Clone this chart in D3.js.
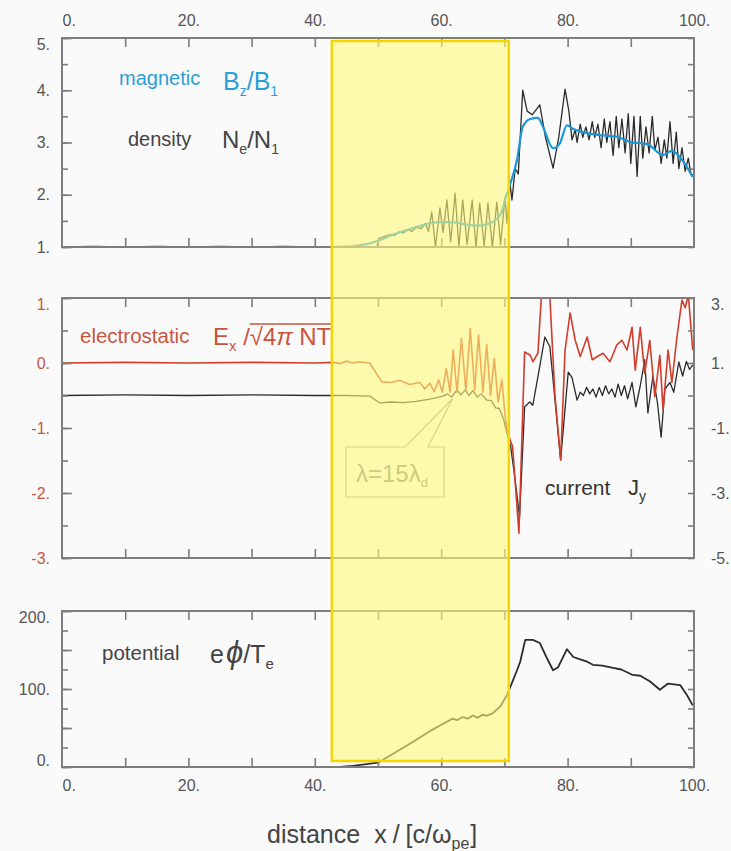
<!DOCTYPE html>
<html>
<head>
<meta charset="utf-8">
<title>Shock profile: magnetic, density, electrostatic, current, potential</title>
<style>
body { margin:0; background:#fafafa; }
text { font-family:"Liberation Sans", Arial, sans-serif; }
</style>
<script src="https://cdn.jsdelivr.net/npm/d3@7"></script>
</head>
<body>
<svg id="chart" width="731" height="851"></svg>
<script>
// tick labels
var xTicks = [0, 20, 40, 60, 80, 100];
var densTicks = [1, 2, 3, 4, 5];
var fieldTicks = [-3, -2, -1, 0, 1];
var currentTicks = [-5, -3, -1, 1, 3];
var potTicks = [0, 100, 200];

// highlighted region, in x units
var band = [42.7, 70.7];

// panel 1 : Bz/B1 (smooth) and Ne/N1
var magnetic = [[0,1],[45,1],[46.5,1.02],[48,1.05],[50,1.12],[52,1.22],[54,1.3],[56,1.38],[58,1.45],[60,1.48],
  [62,1.47],[64,1.43],[66,1.41],[68,1.47],[69.5,1.65],[70.2,1.95],[70.6,2.09],[72,2.67],[72.9,3.3],[74.1,3.45],
  [75.3,3.47],[76.1,3.3],[77.7,2.89],[78.8,2.99],[79.9,3.33],[80.9,3.26],[83.1,3.18],[85.1,3.14],[87.8,3.11],
  [89.9,3.01],[92.6,2.97],[95.1,2.76],[96.5,2.84],[98.1,2.67],[99.8,2.34]];

var density = [[0,1],[5,1.01],[10,1],[15,1.01],[20,1],[25,1.01],[30,1],[35,1.01],[40,1],[45,1.01],[49.8,1],
  [50.2,1.17],[51,1.2],[52,1.24],[52.6,1.22],[53.3,1.29],[54,1.27],[54.7,1.33],[55.4,1.3],[56.1,1.38],[56.8,1.35],
  [57.5,1.45],[58,1.3],[58.5,1.67],[59.1,1.0],[59.8,1.75],[60.3,1.28],[60.9,1.9],[61.5,1.1],[62.2,2.03],[62.8,1.0],
  [63.4,1.9],[64.1,1.05],[64.9,1.9],[65.5,1.0],[66.1,1.84],[66.8,1.02],[67.4,1.84],[68.1,1.0],[68.8,1.86],[69.4,1.05],
  [70.1,1.96],[70.4,1.45],[70.9,2.2],[71.2,1.9],[71.7,2.5],[72.2,2.4],[72.9,4.0],[73.6,3.6],[74.4,3.53],[75.6,3.72],
  [76.5,3.1],[77.7,2.51],[78.6,3.1],[79.6,4.02],[80.2,3.6],[80.7,3.05],[81.2,3.25],[81.5,3.0],[82,3.35],[82.4,3.1],
  [82.9,3.3],[83.4,3.05],[83.9,3.4],[84.3,3.1],[84.8,3.35],[85.3,2.9],[85.8,3.45],[86.2,3.0],[86.7,3.4],[87.2,2.75],
  [87.7,3.5],[88.1,2.9],[88.6,3.45],[89.1,2.8],[89.6,3.55],[90,2.6],[90.5,3.5],[91,2.35],[91.5,3.5],[91.9,2.7],
  [92.4,3.3],[92.9,2.8],[93.4,3.5],[93.8,2.85],[94.3,3.1],[94.8,2.6],[95.3,3.05],[95.7,2.7],[96.2,3.4],[96.7,2.6],
  [97.2,3.2],[97.6,2.5],[98.1,2.9],[98.6,2.45],[99.1,2.7],[99.5,2.4],[100,2.35]];

// panel 2 : Ex (left axis) and Jy (right axis)
var electric = [[0,0],[10,0.01],[20,0],[30,0.01],[40,0],[43,0.01],[44,-0.01],[45,0.03],[46,0.0],[47,0.02],[48.7,0],
  [50.6,-0.29],[52,-0.3],[53.5,-0.27],[55,-0.33],[56.6,-0.3],[57.4,-0.4],[58.2,-0.31],[58.9,-0.44],[59.6,-0.26],
  [60.2,-0.45],[60.8,-0.08],[61.4,-0.45],[61.9,0.2],[62.5,-0.45],[63.2,0.38],[63.9,-0.42],[64.6,0.53],[65.3,-0.42],
  [65.9,0.43],[66.6,-0.45],[67.2,0.28],[67.8,-0.5],[68.4,0.07],[69,-0.6],[69.6,-0.26],[70.2,-0.9],[70.6,-1.1],
  [71.3,-1.29],[72.3,-2.62],[73.2,0.17],[74.1,0.12],[74.5,0.02],[75.3,0.15],[75.9,1.1],[76.5,1.2],[77.2,1.0],
  [78,-0.5],[78.9,-1.49],[79.6,0.2],[80.4,0.77],[81.2,0.35],[82,0.1],[83.1,0.4],[83.9,0.05],[84.7,0.1],[85.6,0.15],
  [86.7,0.02],[87.8,0.28],[88.6,0.35],[89.4,0.2],[90.2,0.55],[90.7,-0.11],[91.5,0.55],[92.2,-0.16],[93,0.35],
  [93.8,-0.52],[94.6,0.12],[95.1,-0.72],[95.9,0.2],[96.5,-0.3],[97.3,0.4],[98.1,0.97],[98.6,0.85],[99.1,1.05],[99.8,0.2]];

var current = [[0,0],[10,0.02],[20,0],[30,0.02],[40,0],[45,0],[48.7,-0.02],[50.3,-0.23],[52,-0.2],[54,-0.22],
  [56,-0.18],[58,-0.12],[60.3,-0.02],[61,0.05],[61.6,-0.05],[62.5,0.17],[63.1,0.02],[63.8,0.17],[64.4,0],[65,0.15],
  [65.7,-0.05],[66.3,0.05],[67.2,-0.14],[67.9,-0.15],[68.6,-0.38],[69.2,-0.4],[69.9,-0.75],[70.2,-1.0],[70.6,-1.3],
  [71,-1.58],[71.7,-2.6],[72.4,-3.74],[73.2,-0.35],[74,-0.2],[74.5,-0.3],[75.3,0.57],[76.4,1.8],[77.2,1.5],
  [78.9,-1.98],[80.1,0.72],[80.7,0.55],[81.5,-0.14],[82,0.1],[82.5,0],[83,0.25],[83.5,0.05],[84,0.2],[84.5,-0.05],
  [85,0.25],[85.5,0],[86,0.3],[86.5,0.05],[87,0.2],[87.5,-0.05],[88,0.35],[88.5,0],[89,0.3],[89.5,-0.1],[90.2,0.4],
  [90.8,-0.35],[91.5,0.3],[92.2,1.1],[92.7,-0.54],[93.5,0.6],[94.2,-0.2],[94.8,-1.28],[95.4,0.2],[96.2,0.4],
  [96.8,0.1],[97.6,1.03],[98.2,0.6],[98.8,1.05],[99.3,0.8],[99.8,0.94]];

// panel 3 : e phi / Te
var potential = [[44,0],[46,1.5],[50,5.5],[52,15],[55.5,32],[58,45],[60.9,58],[61.8,62],[62.5,60],[63.4,64],
  [64.2,62],[65,66],[65.8,63],[66.5,67],[67.2,66],[68,68],[69.3,77],[70.4,92],[72,124],[72.5,135],[73.3,163],
  [74.5,163],[75.6,159],[76.7,140],[77.7,124],[78.5,128],[79.9,151],[80.9,141],[82,138],[83.1,135],[84,131],
  [85.5,130],[87.2,127],[88.5,125],[90.3,118],[91.5,117],[93,110],[94.6,99],[95.9,107],[97.8,105],[98.9,92],[99.8,79]];

var svg = d3.select("#chart");
svg.append("rect").attr("width", 731).attr("height", 851).attr("fill", "#fafafa");

var x = d3.scaleLinear().domain([0, 100]).range([62, 694]);
var yDens = d3.scaleLinear().domain([1, 5]).range([247, 38]);
var yField = d3.scaleLinear().domain([-3, 1]).range([558, 298]);
var yCur = d3.scaleLinear().domain([-5, 3]).range([558, 298]);
var yPot = d3.scaleLinear().domain([0, 200]).range([767, 611]);

var gray = "#555", frameCol = "#7d7d7d", redText = "#c9553f", blue = "#2a9fd6";

function clip(id, yScale) {
    var r = yScale.range();
    svg.append("clipPath").attr("id", id).append("rect")
        .attr("x", x(0)).attr("y", r[1]).attr("width", x(100) - x(0)).attr("height", r[0] - r[1]);
}
clip("c1", yDens); clip("c2", yField); clip("c3", yPot);

function curve(data, yScale, clipId, color, width, smooth) {
    var line = d3.line()
        .x(function(d) { return x(d[0]); })
        .y(function(d) { return yScale(d[1]); })
        .curve(smooth ? d3.curveMonotoneX : d3.curveLinear);
    svg.append("path").datum(data)
        .attr("d", line)
        .attr("clip-path", "url(#" + clipId + ")")
        .attr("fill", "none")
        .attr("stroke", color)
        .attr("stroke-width", width)
        .attr("stroke-linejoin", "round");
}

curve(density, yDens, "c1", "#2b2b2b", 1.3, false);
curve(magnetic, yDens, "c1", "#1a98d6", 2.2, true);
curve(current, yCur, "c2", "#2b2b2b", 1.3, false);
curve(electric, yField, "c2", "#d23c2c", 1.6, false);
curve(potential, yPot, "c3", "#2b2b2b", 1.8, false);

// axes helper: ticks pointing inward, labels outside
function styleAxis(g, color) {
    g.select(".domain").remove();
    g.selectAll("line").attr("stroke", frameCol).attr("stroke-width", 1.6);
    g.selectAll("text").attr("fill", color).attr("font-size", 16)
        .attr("font-family", "'Liberation Sans', Arial, sans-serif");
}

function panel(yScale, minorStep, majorStep, labels, labelColor, right) {
    var dom = yScale.domain(), r = yScale.range();
    var top = r[1], bottom = r[0];
    // x ticks top and bottom
    svg.append("g").attr("transform", "translate(0," + top + ")")
        .call(d3.axisTop(x).tickValues(d3.range(10, 100, 10)).tickSize(-9).tickFormat(""))
        .call(styleAxis, gray);
    svg.append("g").attr("transform", "translate(0," + bottom + ")")
        .call(d3.axisBottom(x).tickValues(d3.range(10, 100, 10)).tickSize(-9).tickFormat(""))
        .call(styleAxis, gray);
    // left minor / major
    svg.append("g").attr("transform", "translate(" + x(0) + ",0)")
        .call(d3.axisLeft(yScale).tickValues(d3.range(dom[0], dom[1] + 1e-6, minorStep)).tickSize(-6).tickFormat(""))
        .call(styleAxis, gray);
    svg.append("g").attr("transform", "translate(" + x(0) + ",0)")
        .call(d3.axisLeft(yScale).tickValues(d3.range(dom[0], dom[1] + 1e-6, majorStep)).tickSize(-10).tickFormat(""))
        .call(styleAxis, gray);
    // left labels
    svg.append("g").attr("transform", "translate(" + x(0) + ",0)")
        .call(d3.axisLeft(yScale).tickValues(labels).tickSize(0).tickPadding(12)
            .tickFormat(function(d) { return d + "."; }))
        .call(styleAxis, labelColor)
        .selectAll("text")
        .attr("dy", function(d) {
            if (d === dom[1]) return "0.72em";
            if (d === dom[0] && bottom === 767) return "-0.1em";
            return "0.32em";
        });
    // right ticks
    var rs = right ? right.scale : yScale;
    var rd = rs.domain();
    svg.append("g").attr("transform", "translate(" + x(100) + ",0)")
        .call(d3.axisRight(rs).tickValues(d3.range(rd[0], rd[1] + 1e-6, right ? right.step : minorStep)).tickSize(-6).tickFormat(""))
        .call(styleAxis, gray);
    if (right) {
        svg.append("g").attr("transform", "translate(" + x(100) + ",0)")
            .call(d3.axisRight(rs).tickValues(right.labels).tickSize(0).tickPadding(17)
                .tickFormat(function(d) { return d + "."; }))
            .call(styleAxis, gray)
            .selectAll("text")
            .attr("dy", function(d) { return d === rd[1] ? "0.72em" : "0.32em"; });
    }
    // frame
    svg.append("rect").attr("x", x(0)).attr("y", top)
        .attr("width", x(100) - x(0)).attr("height", bottom - top)
        .attr("fill", "none").attr("stroke", frameCol).attr("stroke-width", 2);
}

panel(yDens, 0.5, 1, densTicks, gray, null);
panel(yField, 0.5, 1, fieldTicks, redText, { scale: yCur, step: 1, labels: currentTicks });
panel(yPot, 25, 50, potTicks, gray, null);

// x tick labels, top of panel 1 and bottom of panel 3
svg.append("g").attr("transform", "translate(0,38)")
    .call(d3.axisTop(x).tickValues(xTicks).tickSize(0).tickPadding(12)
        .tickFormat(function(d) { return d + "."; }))
    .call(styleAxis, gray)
    .selectAll("text").attr("text-anchor", function(d) { return d === 0 ? "start" : "middle"; });
svg.append("g").attr("transform", "translate(0,767)")
    .call(d3.axisBottom(x).tickValues(xTicks).tickSize(0).tickPadding(13)
        .tickFormat(function(d) { return d + "."; }))
    .call(styleAxis, gray)
    .selectAll("text").attr("text-anchor", function(d) { return d === 0 ? "start" : "middle"; });

// labels with subscripts
function label(xp, yp, color, parts) {
    var t = svg.append("text").attr("x", xp).attr("y", yp).attr("fill", color);
    parts.forEach(function(p) {
        var s = t.append("tspan").text(p.t).attr("font-size", p.s);
        if (p.dy) s.attr("dy", p.dy);
        if (p.dx) s.attr("dx", p.dx);
        if (p.i) s.attr("font-style", "italic");
    });
    return t;
}

label(119, 85, blue, [{t: "magnetic", s: 20}]);
label(223, 90, blue, [{t: "B", s: 25}, {t: "z", s: 14, dy: 6}, {t: "/B", s: 25, dy: -6}, {t: "1", s: 14, dy: 6}]);
label(128, 146, "#444", [{t: "density", s: 20}]);
label(222, 148, "#444", [{t: "N", s: 24}, {t: "e", s: 14, dy: 6}, {t: "/N", s: 24, dy: -6}, {t: "1", s: 14, dy: 6}]);

label(80, 343, redText, [{t: "electrostatic", s: 20.5}]);
var ex = label(213, 345, redText, [{t: "E", s: 24}, {t: "x", s: 15, dy: 6}, {t: " /\u221A", s: 24, dy: -6},
    {t: "4", s: 24}, {t: "\u03C0", s: 24, i: true}, {t: " NT", s: 24}]);
var exNode = ex.node();
var nChars = exNode.getNumberOfChars();
var ovStart = exNode.getStartPositionOfChar(nChars - 6).x;
var ovEnd = exNode.getEndPositionOfChar(nChars - 1).x;
svg.append("line").attr("x1", ovStart).attr("x2", ovEnd + 2).attr("y1", 324).attr("y2", 324)
    .attr("stroke", redText).attr("stroke-width", 1.3);

label(545, 495, "#333", [{t: "current", s: 21}]);
label(628, 495, "#333", [{t: "J", s: 22}, {t: "y", s: 14, dy: 6}]);

label(102, 660, "#444", [{t: "potential", s: 20.5}]);
label(210, 663, "#444", [{t: "e", s: 25}, {t: "\u03D5", s: 31, i: true, dx: 2}, {t: "/T", s: 25}, {t: "e", s: 15, dy: 6}]);

label(267, 843, "#444", [{t: "distance", s: 25}, {t: "x", s: 25, dx: 14}, {t: "/", s: 25, dx: 6},
    {t: "[c/\u03C9", s: 25, dx: 6}, {t: "pe", s: 16, dy: 6}, {t: "]", s: 25, dy: -6, dx: 1}]);

// callout pointing at the wave train
var tipX = x(61.8), tipY = yCur(-0.1);
var bx = 346, by = 447, bw = 98, bh = 50;
svg.append("path")
    .attr("d", "M" + bx + "," + by + "L405," + by + "L" + tipX + "," + tipY + "L428," + by +
        "L" + (bx + bw) + "," + by + "L" + (bx + bw) + "," + (by + bh) + "L" + bx + "," + (by + bh) + "Z")
    .attr("fill", "none").attr("stroke", "#9a9a9a").attr("stroke-width", 1.2);
label(356, 482, "#858585", [{t: "\u03BB=15\u03BB", s: 24}, {t: "d", s: 13, dy: 5}]);

// yellow band
svg.append("rect")
    .attr("x", x(band[0])).attr("y", 41)
    .attr("width", x(band[1]) - x(band[0])).attr("height", 720)
    .attr("fill", "#fffa7b").attr("fill-opacity", 0.6);
svg.append("rect")
    .attr("x", x(band[0])).attr("y", 41)
    .attr("width", x(band[1]) - x(band[0])).attr("height", 720)
    .attr("fill", "none").attr("stroke", "#f3d600").attr("stroke-width", 2.5);
</script>
</body>
</html>
